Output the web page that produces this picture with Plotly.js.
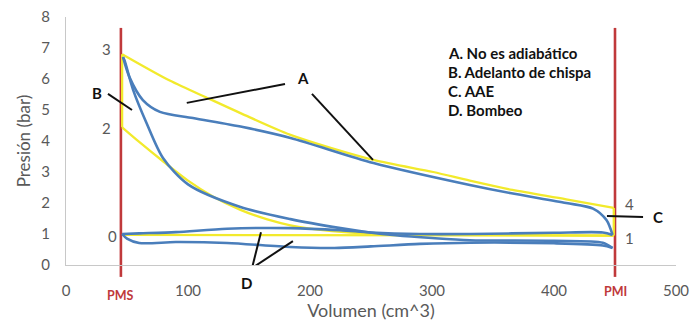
<!DOCTYPE html>
<html>
<head>
<meta charset="utf-8">
<script src="https://cdn.plot.ly/plotly-3.0.1.min.js"></script>
<style>
html,body{margin:0;padding:0;background:#ffffff;}
#chart{width:691px;height:322px;}
</style>
</head>
<body>
<div id="chart"></div>
<script>
// ---------- DATA ----------
// Axis ticks
const volumeTicks = [0, 100, 200, 300, 400, 500];
const pressureTicks = [0, 1, 2, 3, 4, 5, 6, 7, 8];

// Dead centres (cm^3)
const deadCentreVolumes = [45, 450];
const deadCentreLabels = ['PMS', 'PMI'];

// Theoretical Otto cycle (yellow)
const idealIntakeV = [46, 449];
const idealIntakeP = [0.97, 0.95];
const idealCompressionV = [449, 300, 249, 216, 184, 165, 143, 120, 100, 80, 60, 46];
const idealCompressionP = [0.95, 0.97, 1.01, 1.1, 1.28, 1.47, 1.78, 2.22, 2.72, 3.33, 3.97, 4.44];
const idealCombustionV = [46, 46];
const idealCombustionP = [4.44, 6.8];
const idealExpansionV = [46, 85, 118, 143, 184, 252, 301, 331, 366, 410, 449];
const idealExpansionP = [6.8, 5.95, 5.35, 4.9, 4.2, 3.39, 3.0, 2.72, 2.42, 2.12, 1.84];
const idealExhaustV = [449, 449];
const idealExhaustP = [1.84, 0.95];

// Real cycle (blue)
const realExpansionV = [46.7, 52, 63, 77, 104, 145, 184, 252, 331, 364, 410, 432, 443, 448];
const realExpansionP = [6.71, 6.06, 5.32, 4.94, 4.74, 4.45, 4.1, 3.29, 2.58, 2.32, 2.0, 1.82, 1.45, 0.97];
const realExhaustV = [448, 440, 400, 331, 290, 250, 225, 184, 132, 90, 60, 46];
const realExhaustP = [0.97, 1.05, 1.04, 1.0, 1.0, 1.05, 1.12, 1.19, 1.17, 1.06, 1.02, 1.0];
const realIntakeV = [46, 50, 60, 90, 132, 184, 220, 250, 290, 331, 400, 440, 448];
const realIntakeP = [1.0, 0.85, 0.71, 0.74, 0.71, 0.58, 0.55, 0.6, 0.68, 0.72, 0.7, 0.63, 0.55];
const realCompressionV = [448, 440, 400, 331, 300, 270, 249, 225, 184, 143, 100, 79.5, 66, 55, 48, 46.7];
const realCompressionP = [0.55, 0.72, 0.78, 0.8, 0.87, 0.96, 1.05, 1.19, 1.48, 1.87, 2.6, 3.45, 4.58, 5.65, 6.6, 6.71];

// Cycle point labels
const pointLabels = ['3', '2', '0', '4', '1'];
const pointLabelV = [33, 33, 38, 462, 462];
const pointLabelP = [6.97, 4.42, 0.94, 1.97, 0.87];

// Key text
const keyLines = ['A. No es adiabático', 'B. Adelanto de chispa', 'C. AAE', 'D. Bombeo'];

// ---------- STYLE ----------
const FONT = 'Lato, "Open Sans", sans-serif';
const GREY = '#595959';
const BLUE = '#4a7ebb';
const YELLOW = '#f2ea2c';
const RED = '#c0393b';

function seg(x, y, color, width, shape) {
  return {
    type: 'scatter', mode: 'lines', x: x, y: y,
    line: {color: color, width: width, shape: shape || 'spline', smoothing: 0.8},
    hoverinfo: 'skip', showlegend: false
  };
}

const traces = [
  seg(idealIntakeV, idealIntakeP, YELLOW, 2.3, 'linear'),
  seg(idealCompressionV, idealCompressionP, YELLOW, 2.3),
  seg(idealCombustionV, idealCombustionP, YELLOW, 2.3, 'linear'),
  seg(idealExpansionV, idealExpansionP, YELLOW, 2.3),
  seg(idealExhaustV, idealExhaustP, YELLOW, 2.3, 'linear'),
  seg(realExhaustV, realExhaustP, BLUE, 2.6),
  seg(realIntakeV, realIntakeP, BLUE, 2.6),
  seg(realCompressionV, realCompressionP, BLUE, 2.6),
  seg(realExpansionV, realExpansionP, BLUE, 2.6)
];

const shapes = [];
const annotations = [];

// Dead-centre red lines and labels
const deadLabelY = [-0.121, -0.105];
deadCentreVolumes.forEach(function (v, i) {
  shapes.push({type: 'line', xref: 'x', yref: 'paper', x0: v, x1: v, y0: -0.048, y1: 0.956,
    line: {color: RED, width: 2.6}, layer: 'below'});
  annotations.push({xref: 'x', yref: 'paper', x: v, y: deadLabelY[i], text: '<b>' + deadCentreLabels[i] + '</b>',
    showarrow: false, font: {family: FONT, size: 12.5, color: RED}, xanchor: 'center', yanchor: 'middle'});
});

// Pointer lines (annotation leaders), data coordinates
const pointers = [
  [99, 5.23, 179.5, 5.84],
  [201.6, 5.52, 251.6, 3.39],
  [34.4, 5.52, 54.1, 5.0],
  [443.4, 1.58, 473, 1.55],
  [152.5, -0.1, 159.8, 1.06],
  [152.5, -0.1, 186, 0.77]
];
pointers.forEach(function (p) {
  shapes.push({type: 'line', xref: 'x', yref: 'y', x0: p[0], y0: p[1], x1: p[2], y1: p[3],
    line: {color: '#111111', width: 2}, layer: 'above'});
});

// Pointer letters (D sits below the axis, so it uses paper y)
const letters = [['A', 194, 6.03, 'y'], ['B', 25.4, 5.55, 'y'], ['C', 485, 1.55, 'y'], ['D', 148, -0.073, 'paper']];
letters.forEach(function (l) {
  annotations.push({xref: 'x', yref: l[3], x: l[1], y: l[2], text: '<b>' + l[0] + '</b>', showarrow: false,
    font: {family: FONT, size: 15, color: '#111111'}, xanchor: 'center', yanchor: 'middle'});
});

// Cycle point numbers
pointLabels.forEach(function (t, i) {
  annotations.push({xref: 'x', yref: 'y', x: pointLabelV[i], y: pointLabelP[i], text: t, showarrow: false,
    font: {family: FONT, size: 15, color: GREY}, xanchor: 'center', yanchor: 'middle'});
});

// Key block
const keyY = [6.84, 6.23, 5.61, 5.0];
keyLines.forEach(function (t, i) {
  annotations.push({xref: 'x', yref: 'y', x: 311.5, y: keyY[i], text: '<b>' + t + '</b>', showarrow: false,
    font: {family: FONT, size: 15, color: '#111111'}, xanchor: 'left', yanchor: 'middle'});
});

const layout = {
  width: 691, height: 322,
  margin: {l: 66, r: 15, t: 17, b: 57},
  paper_bgcolor: '#ffffff', plot_bgcolor: '#ffffff',
  showlegend: false,
  font: {family: FONT, color: GREY, size: 15},
  xaxis: {
    range: [0, 500], tickvals: volumeTicks, showgrid: false, zeroline: false,
    showline: true, linecolor: '#c8c8c8', linewidth: 1, ticks: '',
    ticklabelstandoff: 12, tickfont: {family: FONT, size: 15, color: GREY},
    title: {text: 'Volumen (cm^3)', font: {family: FONT, size: 18, color: GREY}, standoff: 6},
    automargin: false, fixedrange: true
  },
  yaxis: {
    range: [0, 8], tickvals: pressureTicks, showgrid: false, zeroline: false,
    showline: true, linecolor: '#c8c8c8', linewidth: 1, ticks: '',
    ticklabelstandoff: 12, tickfont: {family: FONT, size: 15, color: GREY},
    title: {text: 'Presión (bar)', font: {family: FONT, size: 17, color: GREY}, standoff: 6},
    automargin: false, fixedrange: true
  },
  shapes: shapes,
  annotations: annotations
};

Plotly.newPlot('chart', traces, layout, {staticPlot: true, displayModeBar: false});
</script>
</body>
</html>
